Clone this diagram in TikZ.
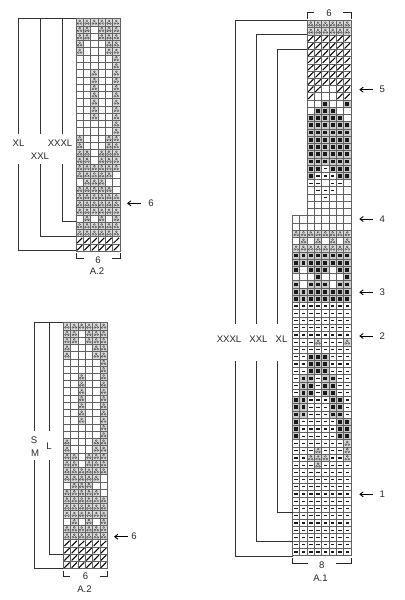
\documentclass[tikz,border=0pt]{standalone}
\usepackage{fontspec}
\setmainfont{Liberation Sans}
\usetikzlibrary{arrows.meta}
\newcount\myrw
\newcount\mycl
\definecolor{gridc}{gray}{0.38}
\definecolor{symc}{gray}{0.3}
\tikzset{
  gridln/.style={draw=gridc,line width=0.7bp},
  lead/.style={draw=black!80,line width=1.0bp},
  brk/.style={draw=black!85,line width=0.9bp},
  lab/.style={font=\fontsize{9.6}{11}\selectfont,text=black!85,inner sep=0pt},
  pointer/.style={draw=black,line width=0.9bp,-{Straight Barb[length=3.2bp,width=5bp]}},
  symln/.style={draw=symc,line width=0.45bp},
  slashln/.style={draw=black,line width=1.05bp}
}
\def\DrawCell#1{%
  \if#1x\else
    \if#1o\fill[gray!30] (\the\mycl,\the\myrw) rectangle ++(1,1);\fi
    \if#1b\fill[gray!42] (\the\mycl,\the\myrw) rectangle ++(1,1);\fi
    \draw[gridln] (\the\mycl,\the\myrw) rectangle ++(1,1);
    \if#1o\draw[symln,fill=white] (\the\mycl.5,\the\myrw.5) ++(0,-.2) circle[radius=.95bp] ++(-.2,.36) circle[radius=.95bp] ++(.4,0) circle[radius=.95bp];\fi
    \if#1b\fill[black!90] (\the\mycl.5,\the\myrw.5) ++(-.26,-.26) rectangle ++(.52,.52);\fi
    \if#1d\fill[black!90] (\the\mycl.5,\the\myrw.5) ++(-.24,-.085) rectangle ++(.48,.17);\fi
    \if#1s\draw[slashln] (\the\mycl.5,\the\myrw.5) ++(-.36,.36) -- ++(.72,-.72);\fi
  \fi
  \advance\mycl by 1 }
\def\ParseRow#1{\ifx#1\relax\else\DrawCell{#1}\expandafter\ParseRow\fi}
\def\Rw#1{\mycl=0 \ParseRow#1\relax\advance\myrw by 1 }
\begin{document}
\begin{tikzpicture}[x=1bp,y=-1bp]
\useasboundingbox (0,0) rectangle (404,600);
% ---------- upper A.2
\begin{scope}[shift={(76,18.7)},x=7.33bp,y=-7.27bp]
\myrw=0
\Rw{oooooo}\Rw{oo.ooo}\Rw{oo.ooo}\Rw{o...oo}\Rw{o...oo}\Rw{.....o}\Rw{.....o}
\Rw{..o..o}\Rw{..o..o}\Rw{..o..o}\Rw{..o..o}\Rw{..o..o}\Rw{..o..o}\Rw{..o..o}
\Rw{.....o}\Rw{.....o}\Rw{o...oo}\Rw{o...oo}\Rw{oo.ooo}\Rw{oo.ooo}
\Rw{oooooo}\Rw{ooooo.}\Rw{.ooo..}\Rw{ooooo.}\Rw{oooooo}\Rw{oooooo}\Rw{oooooo}
\Rw{.o.o.o}\Rw{oooooo}\Rw{oooooo}\Rw{ssssss}\Rw{ssssss}
\end{scope}
\coordinate (ua) at (18,134); \coordinate (ub) at (40,134); \coordinate (uc) at (62,134);
\coordinate (ut) at (76,18.7);
\draw[lead] (ua) -- (18,18.7) -- (ut);
\draw[lead] (ub) -- (40,18.7);
\draw[lead] (uc) -- (62,18.7);
\coordinate (ud) at (76,221.7); \coordinate (ue) at (76,236); \coordinate (uf) at (76,250.7);
\draw[lead] (62,164) -- (62,221.7) -- (ud);
\draw[lead] (40,164) -- (40,236) -- (ue);
\draw[lead] (18,164) -- (18,250.7) -- (uf);
\node[lab] (uxl) at (18.5,143.5) {XL};
\node[lab] (uxxxl) at (60,143.5) {XXXL};
\node[lab] (uxxl) at (40,156) {XXL};
\draw[brk] (76,252.5) -- (76,258) -- (84,258);
\draw[brk] (111.5,258) -- (120,258) -- (120,252.5);
\node[lab] (usix) at (98,260) {6};
\node[lab] (uname) at (97,271.5) {A.2};
\node[lab] (uarr) at (151,203.3) {6};
\coordinate (uarrt) at (127,203.3);
\draw[pointer] (141,203.3) -- (uarrt);
% ---------- lower A.2
\begin{scope}[shift={(63.3,322.7)},x=7.33bp,y=-7.235bp]
\myrw=0
\Rw{oooooo}\Rw{oo.ooo}\Rw{oo.ooo}\Rw{o...oo}\Rw{o...oo}\Rw{.....o}\Rw{.....o}
\Rw{..o..o}\Rw{..o..o}\Rw{..o..o}\Rw{..o..o}\Rw{..o..o}\Rw{..o..o}\Rw{..o..o}
\Rw{.....o}\Rw{.....o}\Rw{o...oo}\Rw{o...oo}\Rw{oo.ooo}\Rw{oo.ooo}
\Rw{oooooo}\Rw{ooooo.}\Rw{.ooo..}\Rw{ooooo.}\Rw{oooooo}\Rw{oooooo}\Rw{oooooo}
\Rw{.o.o.o}\Rw{oooooo}\Rw{oooooo}\Rw{ssssss}\Rw{ssssss}\Rw{ssssss}\Rw{ssssss}
\end{scope}
\coordinate (lt) at (63.3,322.7);
\draw[lead] (34,430.7) -- (34,322.7) -- (lt);
\draw[lead] (49,430.7) -- (49,322.7);
\coordinate (ld) at (63.3,554.7); \coordinate (le) at (63.3,568.7);
\draw[lead] (49,460) -- (49,554.7) -- (ld);
\draw[lead] (34,460) -- (34,568.7) -- (le);
\node[lab] (ls) at (34,440) {S};
\node[lab] (ll) at (49,446) {L};
\node[lab] (lm) at (35,453) {M};
\draw[brk] (63.3,570.5) -- (63.3,576.3) -- (70,576.3);
\draw[brk] (99.5,576.3) -- (107.3,576.3) -- (107.3,570.5);
\node[lab] (lsix) at (85.5,576.7) {6};
\node[lab] (lname) at (84.5,589.3) {A.2};
\node[lab] (larr) at (134,536.5) {6};
\coordinate (larrt) at (114,536.7);
\draw[pointer] (128,536.7) -- (larrt);
% ---------- A.1
\begin{scope}[shift={(292.5,20.5)},x=7.3bp,y=-7.23bp]
\myrw=0
\Rw{xxoooooo}\Rw{xxoooooo}
\Rw{xxssssss}\Rw{xxssssss}\Rw{xxssssss}\Rw{xxssssss}\Rw{xxssssss}\Rw{xxssssss}\Rw{xxssssss}
\Rw{xxss..ss}\Rw{xxs...ss}\Rw{xx..b..b}\Rw{xx.bbb..}\Rw{xxbbbbb.}
\Rw{xxbbbbbb}\Rw{xxbbbbbb}\Rw{xxbbbbbb}\Rw{xxbbbbbb}\Rw{xxbbbbbb}\Rw{xxbbbbbb}
\Rw{xxbbdbbb}\Rw{xxbdddbb}\Rw{xxdd.dd.}\Rw{xx.ddd..}\Rw{xx..d...}
\Rw{xx......}\Rw{xx......}
\Rw{........}\Rw{........}
\Rw{oooooooo}\Rw{.o.o.o.o}\Rw{oooooooo}
\Rw{bbbbbbbb}\Rw{bbbbbbbb}\Rw{b.bbb.bb}\Rw{...b...b}\Rw{b.bbb.bb}\Rw{bbbbbbbb}\Rw{bbbbbbbb}
\Rw{dddddddd}\Rw{dddddddd}\Rw{dddddddd}\Rw{dddddddd}\Rw{dddddddd}
\Rw{dddodddo}\Rw{dddddddd}
\Rw{ddbbbddd}\Rw{ddbbbddd}\Rw{ddbbbddd}
\Rw{dbbdbbdd}\Rw{dbbdbbdd}\Rw{dbbdbbdd}
\Rw{bbdddbbd}\Rw{bbdddbbd}\Rw{bbdddbbd}
\Rw{bdddddbb}\Rw{bdddddbb}\Rw{bdddddbb}
\Rw{dddddddo}\Rw{dddodddo}\Rw{ddoooddo}\Rw{dddodddd}
\Rw{dddddddd}\Rw{dddddddd}\Rw{dddddddd}\Rw{dddddddd}\Rw{dddddddd}\Rw{dddddddd}
\Rw{dddddddd}\Rw{dddddddd}\Rw{dddddddd}\Rw{dddddddd}\Rw{dddddddd}\Rw{dddddddd}
\end{scope}
\coordinate (at) at (307,20.7); \coordinate (au) at (307,34.7); \coordinate (av) at (307,49.3);
\draw[lead] (235,324) -- (235,20.7) -- (at);
\draw[lead] (256.7,324) -- (256.7,34.7) -- (au);
\draw[lead] (277.7,324) -- (277.7,49.3) -- (av);
\coordinate (ax) at (292.5,512.7); \coordinate (ay) at (292.5,541.7); \coordinate (az) at (292.5,556);
\draw[lead] (277.7,361) -- (277.7,512.7) -- (ax);
\draw[lead] (256.7,361) -- (256.7,541.7) -- (ay);
\draw[lead] (235,361) -- (235,556) -- (az);
\node[lab] (axl) at (281.5,339.3) {XL};
\node[lab] (axxl) at (258.5,339.3) {XXL};
\node[lab] (axxxl) at (229,339.3) {XXXL};
\draw[brk] (307,19) -- (307,12.7) -- (314,12.7);
\draw[brk] (343.3,12.7) -- (351,12.7) -- (351,19);
\node[lab] (asix) at (329,13.7) {6};
\draw[brk] (292.5,557.5) -- (292.5,563.3) -- (307.5,563.3);
\draw[brk] (336,563.3) -- (351,563.3) -- (351,557.5);
\node[lab] (aeight) at (321.7,565) {8};
\node[lab] (aname) at (320.5,578.3) {A.1};
\foreach \nm/\yy in {5/89.7,4/219,3/292.3,2/336,1/494.3}{
  \node[lab] (n\nm) at (382.3,\yy) {\nm};
  \coordinate (t\nm) at (359.3,\yy);
  \draw[pointer] (373,\yy) -- (t\nm);
}
\end{tikzpicture}
\end{document}
